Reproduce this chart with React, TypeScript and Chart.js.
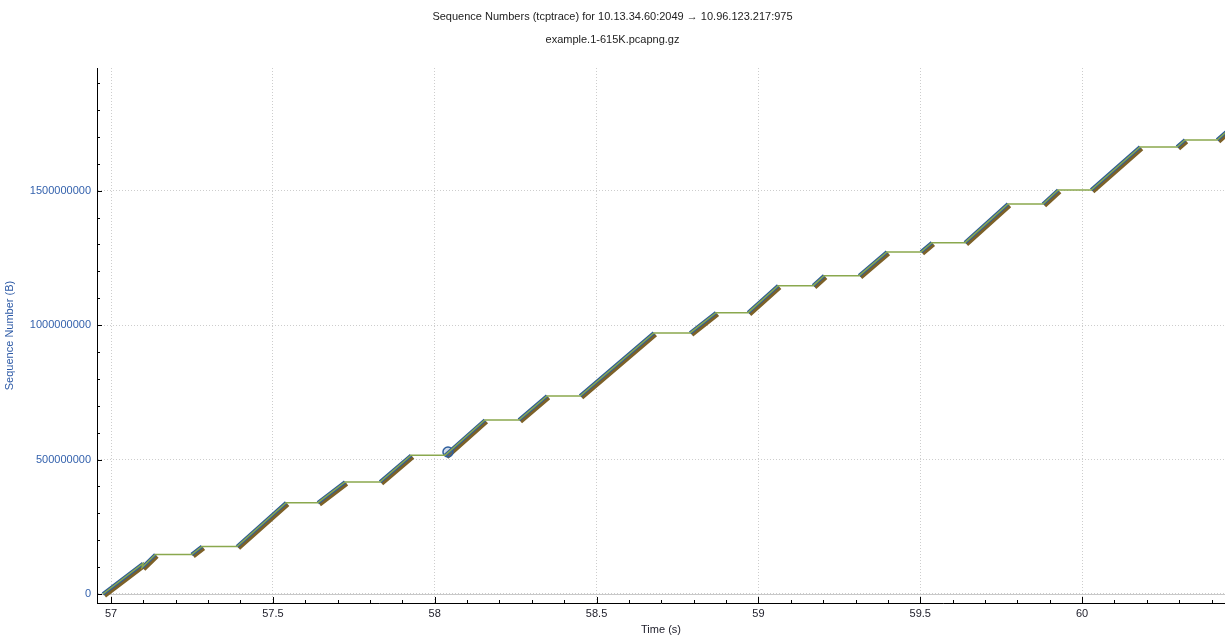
import React, { useEffect, useRef } from "react";
import { Chart, registerables } from "chart.js";

Chart.register(...registerables);

// ---- Data ----
// Each "burst" of data segments: start/end time (s) and start/end sequence number (B)
const riseStartTime = [56.975, 57.096, 57.249, 57.389, 57.639, 57.831, 58.032, 58.260, 58.449, 58.789, 58.968, 59.169, 59.311, 59.502, 59.638, 59.879, 60.028, 60.293, 60.417];
const riseStartSeq = [0, 98600000, 146900000, 176700000, 339500000, 416500000, 515800000, 647100000, 736400000, 970700000, 1046200000, 1146600000, 1183800000, 1271900000, 1306500000, 1450400000, 1502500000, 1662400000, 1688400000];
const riseEndTime = [57.099, 57.137, 57.281, 57.541, 57.723, 57.927, 58.155, 58.347, 58.677, 58.869, 59.061, 59.203, 59.397, 59.536, 59.771, 59.926, 60.179, 60.318, 60.457];
const riseEndSeq = [113400000, 146900000, 176700000, 339500000, 416500000, 515800000, 647100000, 736400000, 970700000, 1046200000, 1146600000, 1183800000, 1271900000, 1306500000, 1450400000, 1502500000, 1662400000, 1688400000, 1731200000];

// selected packet marker
const selectedTime = [58.041];
const selectedSeq = [528000000];

// axes
const xTickValues = [57, 57.5, 58, 58.5, 59, 59.5, 60];
const yTickValues = [0, 500000000, 1000000000, 1500000000];
const xRange = [56.9567, 60.4415];
const yRange = [-33500000, 1956000000];
const xMinorStep = 0.1;
const yMinorStep = 100000000;

const titleText = "Sequence Numbers (tcptrace) for 10.13.34.60:2049 \u2192 10.96.123.217:975";
const subtitleText = "example.1-615K.pcapng.gz";
const xTitle = "Time (s)";
const yTitle = "Sequence Number (B)";

const FONT = "'Liberation Sans', Arial, sans-serif";

const axisDecor = {
  id: "axisDecor",
  beforeDatasetsDraw(chart: any) {
    const { ctx, chartArea, scales } = chart;
    const y0 = Math.round(scales.y.getPixelForValue(0)) + 0.5;
    ctx.save();
    ctx.strokeStyle = "#c8c8c8";
    ctx.lineWidth = 1;
    ctx.beginPath();
    ctx.moveTo(chartArea.left, y0);
    ctx.lineTo(chartArea.right, y0);
    ctx.stroke();
    ctx.restore();
  },
  beforeDatasetDraw(chart: any, args: any) {
    if (args.meta && args.meta.label === "segments") {
      const ctx = chart.ctx;
      ctx.save();
      ctx.shadowColor = "#7d6128";
      ctx.shadowOffsetX = 2;
      ctx.shadowOffsetY = 2;
      ctx.shadowBlur = 0;
    }
  },
  afterDatasetDraw(chart: any, args: any) {
    if (args.meta && args.meta.label === "segments") {
      chart.ctx.restore();
    }
  },
  afterDraw(chart: any) {
    const { ctx, chartArea, scales } = chart;
    const xs = scales.x;
    const ys = scales.y;
    ctx.save();
    ctx.strokeStyle = "#000";
    ctx.lineWidth = 1;
    ctx.beginPath();
    const bottom = chartArea.bottom;
    const left = chartArea.left;
    const i0 = Math.ceil(xs.min / xMinorStep - 1e-9);
    const i1 = Math.floor(xs.max / xMinorStep + 1e-9);
    for (let i = i0; i <= i1; i++) {
      const v = i * xMinorStep;
      const isMajor = xTickValues.some((t) => Math.abs(t - v) < 1e-6);
      const px = Math.round(xs.getPixelForValue(v)) + 0.5;
      ctx.moveTo(px, bottom);
      ctx.lineTo(px, bottom - (isMajor ? 6 : 3));
    }
    const j0 = Math.ceil(ys.min / yMinorStep - 1e-9);
    const j1 = Math.floor(ys.max / yMinorStep + 1e-9);
    for (let j = j0; j <= j1; j++) {
      const v = j * yMinorStep;
      const isMajor = yTickValues.some((t) => Math.abs(t - v) < 1);
      const py = Math.round(ys.getPixelForValue(v)) + 0.5;
      ctx.moveTo(left, py);
      ctx.lineTo(left + (isMajor ? 5 : 3), py);
    }
    ctx.stroke();
    ctx.restore();
  },
};

export default function App() {
  const canvasRef = useRef<HTMLCanvasElement | null>(null);

  useEffect(() => {
    if (!canvasRef.current) return;
    Chart.defaults.font.family = FONT;
    Chart.defaults.font.size = 11;

    const stair: { x: number; y: number }[] = [];
    const segs: ({ x: number; y: number | null })[] = [];
    for (let i = 0; i < riseStartTime.length; i++) {
      stair.push({ x: riseStartTime[i], y: riseStartSeq[i] });
      stair.push({ x: riseEndTime[i], y: riseEndSeq[i] });
      segs.push({ x: riseStartTime[i], y: riseStartSeq[i] });
      segs.push({ x: riseEndTime[i], y: riseEndSeq[i] });
      segs.push({ x: riseEndTime[i], y: null });
    }
    const sel = selectedTime.map((t, i) => ({ x: t, y: selectedSeq[i] }));

    const chart = new Chart(canvasRef.current, {
      type: "line",
      data: {
        datasets: [
          {
            label: "window",
            data: stair,
            borderColor: "#8aa84e",
            borderWidth: 1.5,
            pointRadius: 0,
            tension: 0,
          },
          {
            type: "scatter",
            label: "selected",
            data: sel,
            borderColor: "#2f5f9e",
            backgroundColor: "rgba(70,110,170,0.25)",
            borderWidth: 1.5,
            pointRadius: 5,
          } as any,
          {
            label: "segments",
            data: segs,
            borderColor: "#2f5d96",
            borderWidth: 3.6,
            pointRadius: 0,
            spanGaps: false,
            tension: 0,
          },
        ],
      },
      options: {
        animation: false,
        responsive: false,
        maintainAspectRatio: false,
        parsing: true,
        layout: { padding: 0, autoPadding: false },
        plugins: {
          legend: { display: false },
          tooltip: { enabled: false },
          title: {
            display: true,
            text: titleText,
            color: "#222",
            font: { size: 11, weight: "normal", family: FONT },
            padding: { top: 10, bottom: 10 },
          },
          subtitle: {
            display: true,
            text: subtitleText,
            color: "#222",
            font: { size: 11, weight: "normal", family: FONT },
            padding: { top: 0, bottom: 21.6 },
          },
        },
        scales: {
          x: {
            type: "linear",
            min: xRange[0],
            max: xRange[1],
            afterFit: (s: any) => {
              s.height = 34;
            },
            afterBuildTicks: (s: any) => {
              s.ticks = xTickValues.map((v) => ({ value: v }));
            },
            ticks: {
              color: "#1c1c28",
              font: { size: 11, family: FONT },
              padding: 4,
              autoSkip: false,
              maxRotation: 0,
              callback: (v: any) => String(v),
            },
            grid: {
              color: "#cdcdcd",
              lineWidth: 1,
              drawTicks: false,
              borderDash: [1, 2],
            } as any,
            border: { display: true, color: "#000", width: 1, dash: [1, 2] } as any,
            title: {
              display: true,
              text: xTitle,
              color: "#1c1c28",
              font: { size: 11, family: FONT },
              padding: { top: 0, bottom: 0 },
            },
          },
          y: {
            type: "linear",
            min: yRange[0],
            max: yRange[1],
            afterFit: (s: any) => {
              s.width = 97;
            },
            afterBuildTicks: (s: any) => {
              s.ticks = yTickValues.map((v) => ({ value: v }));
            },
            ticks: {
              color: "#3462ad",
              font: { size: 11, family: FONT },
              padding: 6,
              autoSkip: false,
              callback: (v: any) => String(v),
            },
            grid: {
              color: "#cdcdcd",
              lineWidth: 1,
              drawTicks: false,
              borderDash: [1, 2],
            } as any,
            border: { display: true, color: "#000", width: 1, dash: [1, 2] } as any,
            title: {
              display: true,
              text: yTitle,
              color: "#2d5aa6",
              font: { size: 11, family: FONT },
              padding: { top: 3, bottom: 0 },
            },
          },
        },
      },
      plugins: [axisDecor],
    });

    return () => {
      chart.destroy();
    };
  }, []);

  return (
    <div style={{ position: "absolute", left: 0, top: 0, width: 1225, height: 637 }}>
      <canvas ref={canvasRef} width={1225} height={637} style={{ width: 1225, height: 637, display: "block" }} />
    </div>
  );
}
